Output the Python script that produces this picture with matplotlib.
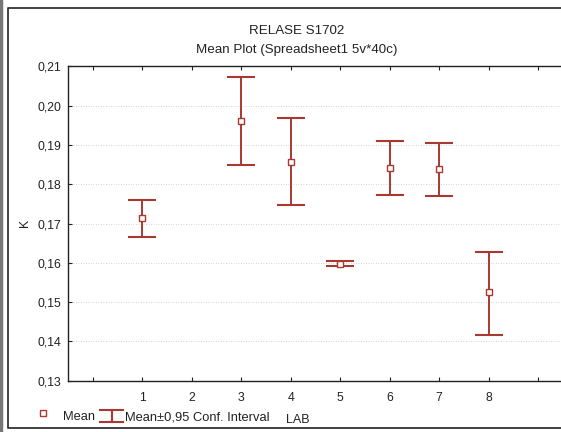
import numpy as np
import matplotlib
matplotlib.use("Agg")
import matplotlib.pyplot as plt
from matplotlib.lines import Line2D

# LAB groups, means of K and the 0.95 confidence limits (group 2 has no data)
labs = [1, 3, 4, 5, 6, 7, 8]
k_mean = [0.1713, 0.1961, 0.1857, 0.1598, 0.1842, 0.1840, 0.1525]
k_upper = [0.1759, 0.2073, 0.1968, 0.1604, 0.1909, 0.1906, 0.1628]
k_lower = [0.1666, 0.1848, 0.1748, 0.1592, 0.1772, 0.1771, 0.1416]
x_ticks = list(range(0, 10))
x_ticklabels = ["", "1", "2", "3", "4", "5", "6", "7", "8", ""]
y_ticks = [0.13, 0.14, 0.15, 0.16, 0.17, 0.18, 0.19, 0.20, 0.21]

W, H = 561, 432
RED = "#a83830"
INK = "#222222"

plt.rcParams["font.family"] = ["Liberation Sans", "DejaVu Sans"]

fig = plt.figure(figsize=(W / 100, H / 100), dpi=100)


def px(x, y):
    return x / W, 1 - y / H


def fig_line(xs, ys, **kw):
    fig.add_artist(Line2D([x / W for x in xs], [1 - y / H for y in ys],
                          transform=fig.transFigure, **kw))


# plot area: left spine at x=68, y from 66 to 381, running off the right edge
left, top, bottom = 68, 66.4, 380.8
width = 495
ax = fig.add_axes([left / W, 1 - bottom / H, width / W, (bottom - top) / H])

mean = np.array(k_mean)
err = [mean - np.array(k_lower), np.array(k_upper) - mean]
ax.errorbar(labs, mean, yerr=err, fmt="none", ecolor=RED, elinewidth=1.4,
            capsize=10, capthick=1.5, zorder=3)
ax.plot(labs, mean, ls="none", marker="s", ms=4.2, mfc="white", mec=RED,
        mew=1.0, zorder=4)

ax.set_yticks(y_ticks)
ax.set_yticklabels([f"{v:.2f}".replace(".", ",") for v in y_ticks])
ax.set_xticks(x_ticks)
ax.set_xticklabels(x_ticklabels)
ax.set_xlim(-0.5, 9.5)
ax.set_ylim(0.13, 0.21)
ax.tick_params(direction="in", length=3, width=0.8, labelsize=8.8, colors=INK)
ax.tick_params(axis="x", pad=8)
ax.tick_params(axis="y", pad=5)
ax.tick_params(top=True)
ax.grid(axis="y", color="#c4c4c4", linestyle=(0, (1, 2)), linewidth=0.6)
ax.set_axisbelow(True)
for s in ax.spines.values():
    s.set_linewidth(1.0)
    s.set_color(INK)
ax.spines["right"].set_visible(False)

fig.text(*px(25, 223), "K", rotation=90, ha="center", va="center", fontsize=8.8,
         color=INK)
fig.text(*px(297, 31), "RELASE S1702", ha="center", va="center", fontsize=9.6,
         color=INK)
fig.text(*px(297, 50), "Mean Plot (Spreadsheet1 5v*40c)", ha="center",
         va="center", fontsize=9.6, color=INK)
fig.text(*px(298, 420), "LAB", ha="center", va="center", fontsize=9,
         color=INK)

# legend row under the axis
fig.add_artist(Line2D([43 / W], [1 - 413 / H], transform=fig.transFigure, ls="none",
                      marker="s", ms=4.2, mfc="white", mec=RED, mew=1.0))
fig.text(*px(63, 417), "Mean", ha="left", va="center", fontsize=9.3, color=INK)
fig_line((100, 123), (410, 410), color=RED, lw=1.5)
fig_line((100, 123), (422, 422), color=RED, lw=1.5)
fig_line((111.5, 111.5), (410, 422), color=RED, lw=1.5)
fig.text(*px(125, 417), "Mean\u00b10,95 Conf. Interval", ha="left", va="center",
         fontsize=9.3, color=INK)

# page frame around the chart (open on the right)
fig_line((W + 5, 8, 8, W + 5), (8, 8, 428, 428), lw=1.3, color="#333333")
fig_line((1, 1), (0, H), lw=2.5, color="#777777")

fig.savefig("out.png", dpi=100)
